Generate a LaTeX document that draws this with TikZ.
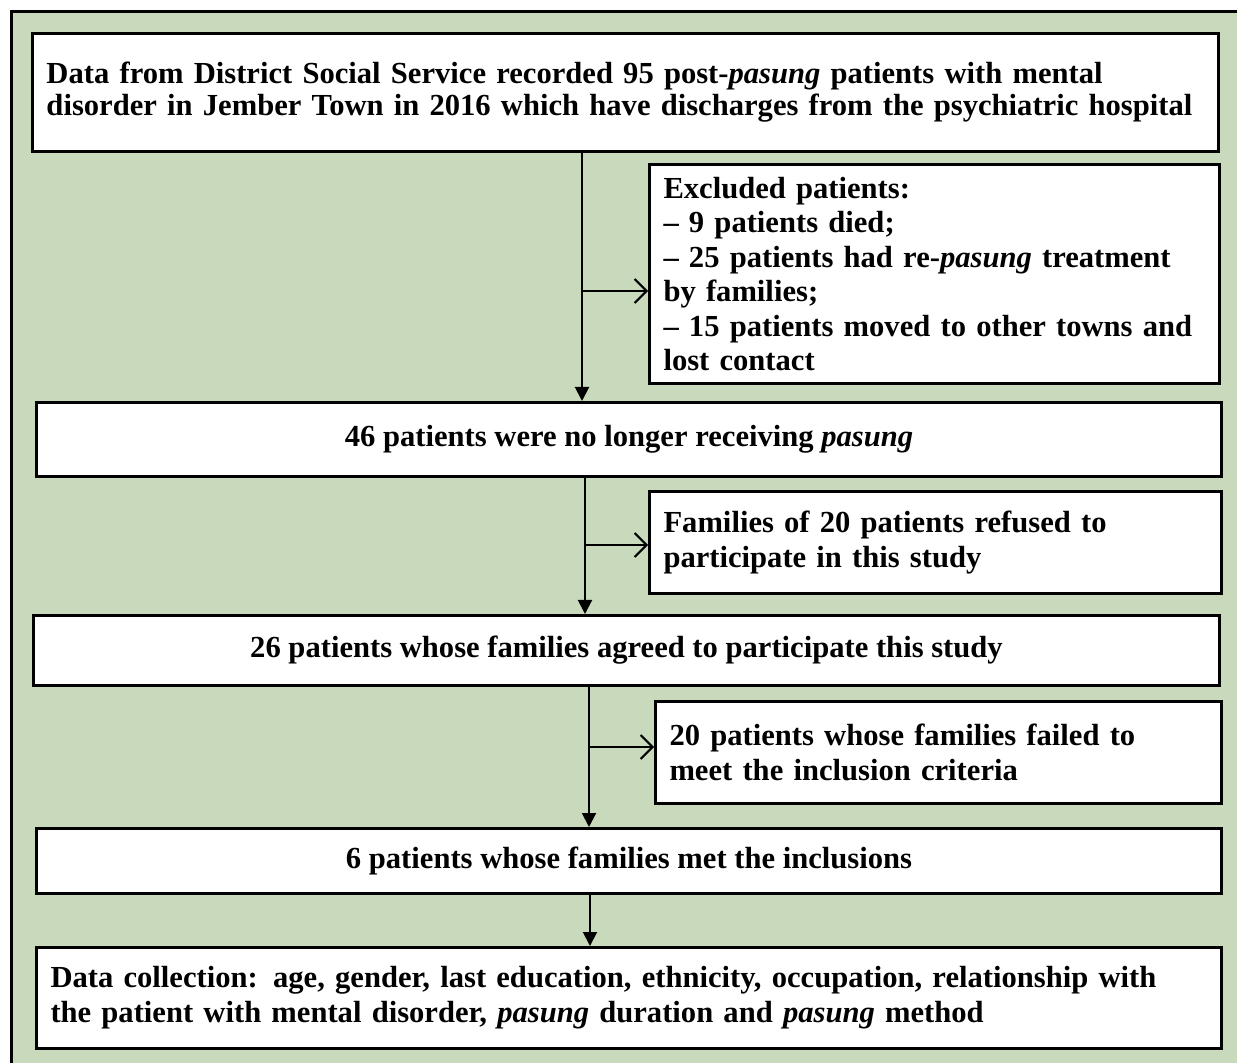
\documentclass[tikz,border=0pt]{standalone}
\usepackage{fontspec}
\setmainfont{Liberation Serif}
\usetikzlibrary{arrows.meta,positioning}
\definecolor{framegreen}{RGB}{201,218,188}

\begin{document}
\begin{tikzpicture}[
    x=0.5pt, y=-0.5pt,
    every node/.style={font=\fontsize{15.3}{17.5}\selectfont\bfseries},
    box/.style={draw, line width=1.5pt, fill=white, anchor=north west, inner xsep=7pt, inner ysep=0pt},
    lbox/.style={box, align=left, text width=#1},
    cbox/.style={box, align=center, minimum width=#1},
    flow/.style={-{Triangle[length=7pt, width=7pt]}, line width=1pt},
    side/.style={-{Straight Barb[length=6pt, width=12pt]}, line width=1pt}
]
\useasboundingbox (0,0) rectangle (1237,1063);
\fill[framegreen] (11,12) rectangle (1237,1063);
\draw[line width=1.5pt] (11,1063) -- (11,12) -- (1237,12);

\node[lbox=579pt, minimum height=59pt, font=\fontsize{15.3}{16}\selectfont\bfseries] (data) at (31,32)
  {Data from District Social Service recorded 95 post-\textit{pasung} patients with mental\\disorder in Jember Town in 2016 which have discharges from the psychiatric hospital};
\node[lbox=271pt, minimum height=109.5pt, font=\fontsize{15.3}{17.25}\selectfont\bfseries] (excluded) at (648,163)
  {Excluded patients:\\\textendash\ 9 patients died;\\\textendash\ 25 patients had re-\textit{pasung} treatment\\by families;\\\textendash\ 15 patients moved to other towns and\\lost contact};
\node[cbox=592.5pt, minimum height=37pt] (nolonger) at (35,401)
  {46 patients were no longer receiving \textit{pasung}};
\node[lbox=272pt, minimum height=51pt] (refused) at (648,490)
  {Families of 20 patients refused to\\participate in this study};
\node[cbox=593pt, minimum height=35pt] (agreed) at (32,614)
  {26 patients whose families agreed to participate this study};
\node[lbox=269pt, minimum height=51pt] (failed) at (654,700)
  {20 patients whose families failed to\\meet the inclusion criteria};
\node[cbox=592.5pt, minimum height=32.5pt] (met) at (35,827)
  {6 patients whose families met the inclusions};
\node[lbox=578.5pt, minimum height=50.5pt] (collection) at (35,946)
  {Data collection: age, gender, last education, ethnicity, occupation, relationship with\\the patient with mental disorder, \textit{pasung} duration and \textit{pasung} method};

% branch points of the vertical arrows
\coordinate (fork1) at (582,291);
\coordinate (fork2) at (585,545);
\coordinate (fork3) at (589,747);
\coordinate (fork4) at (590,900);

\draw[flow] (data.south -| fork1) -- (nolonger.north -| fork1);
\draw[side] (fork1) -- (fork1 -| excluded.west);
\draw[flow] (nolonger.south -| fork2) -- (agreed.north -| fork2);
\draw[side] (fork2) -- (fork2 -| refused.west);
\draw[flow] (agreed.south -| fork3) -- (met.north -| fork3);
\draw[side] (fork3) -- (fork3 -| failed.west);
\draw[flow] (met.south -| fork4) -- (collection.north -| fork4);
\end{tikzpicture}
\end{document}
